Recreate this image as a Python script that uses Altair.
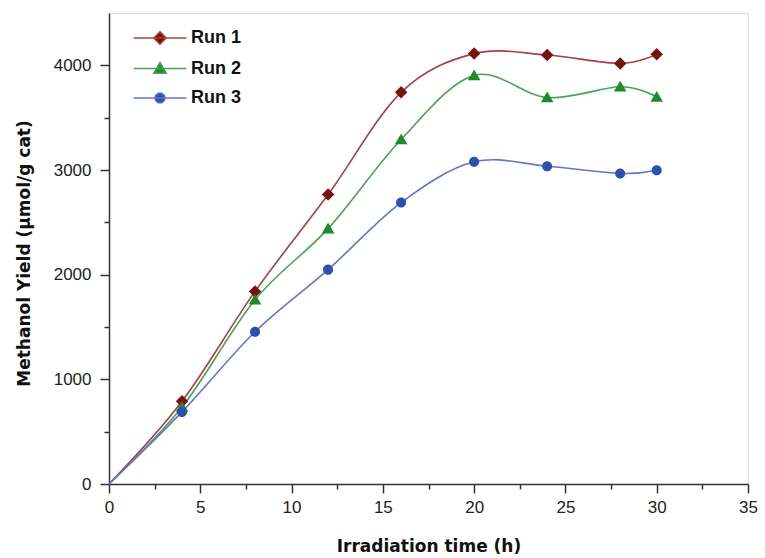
import altair as alt
import pandas as pd

hours = [0, 4, 8, 12, 16, 20, 24, 28, 30]
run1 = [0, 790, 1840, 2765, 3742, 4112, 4098, 4018, 4105]
run2 = [0, 735, 1760, 2440, 3292, 3904, 3692, 3795, 3698]
run3 = [0, 689, 1455, 2048, 2689, 3078, 3036, 2967, 2998]
series = ["Run 1", "Run 2", "Run 3"]
marker_colors = ["#7a1212", "#1d8a30", "#2f4fb0"]
line_colors = ["#a84040", "#45a455", "#6475c8"]
# symbol paths: whisker (zero-area, only visible when stroked in legend) + marker
shapes = [
    "M-2.2,0L2.2,0ZM0,-0.52L0.52,0L0,0.52L-0.52,0Z",
    "M-2.2,0L2.2,0ZM0,-0.5L0.52,0.4L-0.52,0.4Z",
    "M-2.2,0L2.2,0ZM-0.42,0A0.42,0.42,0,1,1,0.42,0A0.42,0.42,0,1,1,-0.42,0Z",
]
x_major = [0, 5, 10, 15, 20, 25, 30, 35]
x_minor = [2.5, 7.5, 12.5, 17.5, 22.5, 27.5, 32.5]
y_major = [0, 1000, 2000, 3000, 4000]
y_minor = [500, 1500, 2500, 3500]

rows = []
for name, vals in zip(series, [run1, run2, run3]):
    for h, v in zip(hours, vals):
        rows.append({"hours": h, "yield": v, "run": name})
df = pd.DataFrame(rows)

label_font = "Liberation Sans"
title_font = "DejaVu Sans"
xscale = alt.Scale(domain=[0, 35], nice=False)
yscale = alt.Scale(domain=[0, 4500], nice=False)

x_major_axis = alt.Axis(values=x_major, title="Irradiation time (h)", grid=False,
                        tickSize=9, labelPadding=6, labelFontSize=17, labelFont=label_font,
                        labelColor="#222", titleFont=title_font, titleFontSize=17,
                        titleFontWeight="bold", titleColor="#111", titlePadding=23,
                        domainColor="#333", domainWidth=1.5, tickColor="#333", tickWidth=1.5,
                        orient="bottom", labelFlush=False, labelOverlap=False)
y_major_axis = alt.Axis(values=y_major, title="Methanol Yield (μmol/g cat)", grid=False,
                        tickSize=9, labelPadding=9, labelFontSize=17, labelFont=label_font,
                        labelColor="#222", titleFont=title_font, titleFontSize=17,
                        titleFontWeight="bold", titleColor="#111", titlePadding=20,
                        titleY=240,
                        domainColor="#333", domainWidth=1.5, tickColor="#333", tickWidth=1.5,
                        orient="left", format="d", labelFlush=False, labelOverlap=False)
x_minor_axis = alt.Axis(values=x_minor, title=None, labels=False, grid=False, domain=False,
                        tickSize=5, tickColor="#333", tickWidth=1.5, orient="bottom")
y_minor_axis = alt.Axis(values=y_minor, title=None, labels=False, grid=False, domain=False,
                        tickSize=5, tickColor="#333", tickWidth=1.5, orient="left")

legend = alt.Legend(title=None, orient="none", legendX=38, legendY=12,
                    symbolSize=576, symbolStrokeWidth=1.5, labelFont=label_font,
                    labelFontSize=18, labelFontWeight="bold", labelColor="#111",
                    labelOffset=18, rowPadding=7.5, padding=0)

stroke_scale = alt.Scale(domain=series, range=line_colors)

lines = alt.Chart(df).mark_line(interpolate="cardinal", strokeWidth=1.6).encode(
    x=alt.X("hours:Q", scale=xscale, axis=x_major_axis),
    y=alt.Y("yield:Q", scale=yscale, axis=y_major_axis),
    stroke=alt.Stroke("run:N", scale=stroke_scale, legend=legend),
)

points = alt.Chart(df).transform_filter("datum.hours > 0").mark_point(opacity=1, size=576).encode(
    x=alt.X("hours:Q", scale=xscale, axis=x_minor_axis),
    y=alt.Y("yield:Q", scale=yscale, axis=y_minor_axis),
    fill=alt.Fill("run:N", scale=alt.Scale(domain=series, range=marker_colors), legend=legend),
    stroke=alt.Stroke("run:N", scale=stroke_scale, legend=legend),
    shape=alt.Shape("run:N", scale=alt.Scale(domain=series, range=shapes), legend=legend),
    strokeWidth=alt.value(0),
)

chart = alt.layer(lines, points).resolve_axis(x="independent", y="independent").properties(
    width=639, height=471,
    autosize=alt.AutoSizeParams(type="none"),
    padding={"left": 109, "top": 13, "right": 17, "bottom": 74},
).configure_view(stroke="#555", strokeWidth=1.5).configure(background="white")

chart.save("out.html", embed_options={"renderer": "svg", "actions": False})
